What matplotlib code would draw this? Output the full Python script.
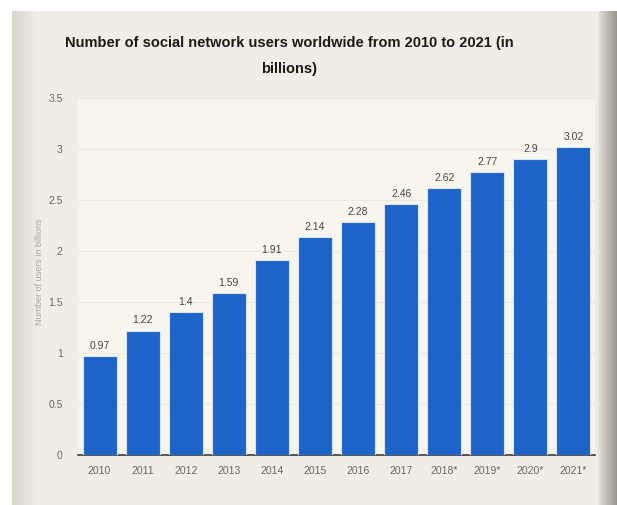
import numpy as np
import matplotlib
matplotlib.use("Agg")
import matplotlib.pyplot as plt

years = ["2010", "2011", "2012", "2013", "2014", "2015", "2016", "2017",
         "2018*", "2019*", "2020*", "2021*"]
users = [0.97, 1.22, 1.4, 1.59, 1.91, 2.14, 2.28, 2.46, 2.62, 2.77, 2.9, 3.02]
value_labels = ["0.97", "1.22", "1.4", "1.59", "1.91", "2.14", "2.28", "2.46",
                "2.62", "2.77", "2.9", "3.02"]
y_ticks = [0, 0.5, 1, 1.5, 2, 2.5, 3, 3.5]
y_tick_labels = ["0", "0.5", "1", "1.5", "2", "2.5", "3", "3.5"]

FONT = "Liberation Sans"
W, H = 617, 505
fig = plt.figure(figsize=(W / 100, H / 100), dpi=100, facecolor="white")

# paper-like backdrop with a soft shadow on the right edge
bg = fig.add_axes([0, 0, 1, 1])
bg.set_xlim(0, W)
bg.set_ylim(H, 0)
bg.axis("off")
xs = np.arange(W)
base = np.array([0.945, 0.932, 0.897])
shade = np.ones(W)
shade[12:40] = np.linspace(0.9, 1.0, 28)
right = xs >= 597
shade[right] = 1.0 - 0.38 * ((xs[right] - 597) / (W - 597)) ** 0.8
row = base[None, :] * shade[:, None]
img = np.repeat(row[None, :, :], H, axis=0)
img[:11, :, :] = 1.0
img[:, :12, :] = 1.0
bg.imshow(img, extent=(0, W, H, 0), aspect="auto", zorder=0)

ax = fig.add_axes([78 / W, 1 - 455 / H, (595 - 78) / W, (455 - 98) / H])
ax.set_facecolor("#f7f5ee")
x = np.arange(len(years))
ax.bar(x, users, width=0.79, color="#1d63c8", edgecolor="#d6e4f5",
       linewidth=0.8, zorder=3)
for xi, v, lab in zip(x, users, value_labels):
    ax.text(xi, v + 0.05, lab, ha="center", va="bottom", fontsize=7.5,
            color="#444444", family=FONT)

ax.set_xlim(-0.5, len(years) - 0.5)
ax.set_ylim(0, 3.5)
ax.set_yticks(y_ticks)
ax.set_yticklabels(y_tick_labels)
ax.set_xticks(x)
ax.set_xticklabels(years)
ax.grid(axis="y", color="#ebe8de", linewidth=0.8, zorder=0)
for s in ["top", "right", "left"]:
    ax.spines[s].set_visible(False)
ax.spines["bottom"].set_color("#3a3a3a")
ax.spines["bottom"].set_linewidth(1.2)
ax.tick_params(axis="both", length=0, labelsize=7.5, labelcolor="#666666",
               pad=8)
ax.tick_params(axis="y", pad=11)
for t in ax.get_xticklabels() + ax.get_yticklabels():
    t.set_family(FONT)

fig.text(40 / W, 1 - 272 / H, "Number of users in billions", rotation=90,
         ha="center", va="center", fontsize=6.5, color="#aaa69c",
         family=FONT)

fig.text(289 / W, 1 - 43 / H,
         "Number of social network users worldwide from 2010 to 2021 (in",
         ha="center", va="center", fontsize=10.5, fontweight="bold",
         color="#1a1a1a", family=FONT)
fig.text(289 / W, 1 - 69 / H, "billions)", ha="center", va="center",
         fontsize=10.5, fontweight="bold", color="#1a1a1a", family=FONT)

fig.savefig("out.png", dpi=100, facecolor=fig.get_facecolor())
